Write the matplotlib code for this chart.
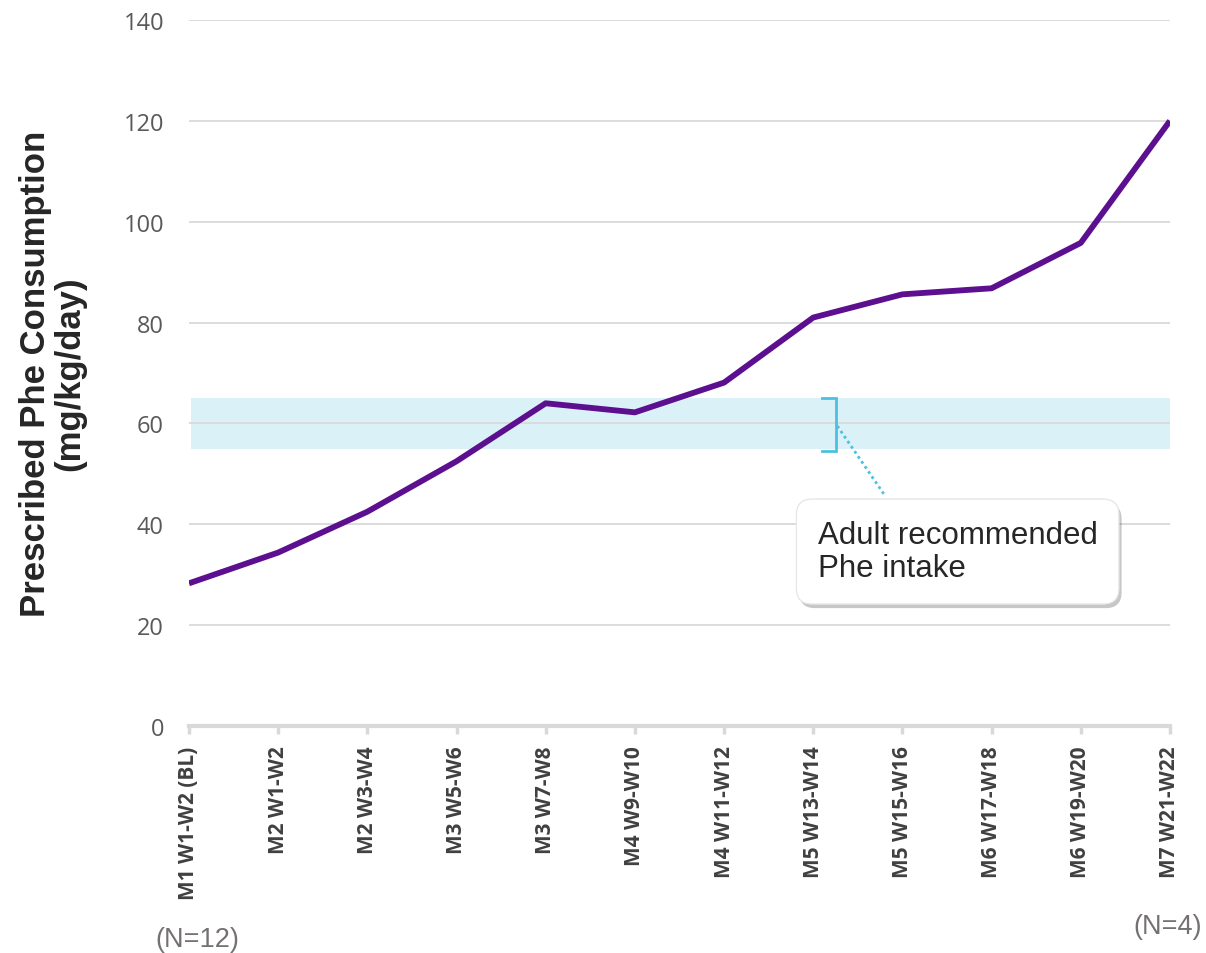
import matplotlib.pyplot as plt
import matplotlib.patheffects as pe

# Data
periods = ["M1 W1-W2 (BL)", "M2 W1-W2", "M2 W3-W4", "M3 W5-W6", "M3 W7-W8",
           "M4 W9-W10", "M4 W11-W12", "M5 W13-W14", "M5 W15-W16",
           "M6 W17-W18", "M6 W19-W20", "M7 W21-W22"]
phe = [28.3, 34.4, 42.5, 52.5, 64.0, 62.2, 68.1, 81.0, 85.6, 86.8, 95.8, 120.0]
band_low, band_high = 55, 65
y_ticks = [0, 20, 40, 60, 80, 100, 120, 140]

fig = plt.figure(figsize=(12.06, 9.54), dpi=100)
ax = fig.add_axes([0.1567, 0.2379, 0.8134, 0.7401])

x = list(range(len(periods)))

# recommended band
ax.axhspan(band_low, band_high, xmin=0.002, xmax=1, color="#daf1f8", zorder=1, lw=0)

for t in y_ticks[1:]:
    ax.axhline(t, color="#d9d9d9", lw=1.3, zorder=2)

ax.plot(x, phe, color="#5c0f8f", lw=4.2, solid_joinstyle="round",
        solid_capstyle="butt", zorder=4)

ax.set_xlim(0, len(periods) - 1)
ax.set_ylim(0, 140)
ax.set_yticks(y_ticks)
ax.set_yticklabels([str(t) for t in y_ticks], color="#595959", fontsize=17,
                   family="Open Sans")
ax.tick_params(axis="y", length=0, pad=18)
ax.set_xticks(x)
ax.set_xticklabels(periods, rotation=90, fontsize=15, fontweight="bold",
                   color="#404040", family="Open Sans")
ax.tick_params(axis="x", length=6, width=2.5, color="#d9d9d9", pad=8)

for s in ["top", "right", "left"]:
    ax.spines[s].set_visible(False)
ax.spines["bottom"].set_color("#d9d9d9")
ax.spines["bottom"].set_linewidth(3)

ax.set_ylabel("Prescribed Phe Consumption\n(mg/kg/day)", fontsize=25,
              fontweight="bold", family="Liberation Sans", color="#262626",
              labelpad=27, linespacing=1.05)

# bracket + connector
bc = "#4cc0e0"
ax.plot([7.10, 7.25, 7.25, 7.10], [band_high, band_high, band_low - 0.5, band_low - 0.5],
        color=bc, lw=2, zorder=5, solid_joinstyle="miter")
ax.plot([7.27, 7.80], [59.5, 45.8], color=bc, lw=2, ls=(0, (1, 1.2)), zorder=5)

txt = ax.text(7.05, 34.6, "Adult recommended\nPhe intake", fontsize=22.5,
              family="Liberation Sans", color="#262626", va="center", ha="left",
              linespacing=1.1, zorder=6,
              bbox=dict(boxstyle="round,pad=0.68,rounding_size=0.5", fc="white",
                        ec="#e6e6e6", lw=0.8))
txt.get_bbox_patch().set_path_effects(
    [pe.withSimplePatchShadow(offset=(2, -3), shadow_rgbFace="#000000", alpha=0.22),
     pe.Normal()])

fig.text(197 / 1206, 1 - 940 / 954, "(N=12)", fontsize=19.5, color="#757171",
         ha="center", va="center", family="Liberation Sans")
fig.text(1168 / 1206, 1 - 927 / 954, "(N=4)", fontsize=19.5, color="#757171",
         ha="center", va="center", family="Liberation Sans")

fig.savefig("out.png", dpi=100)
